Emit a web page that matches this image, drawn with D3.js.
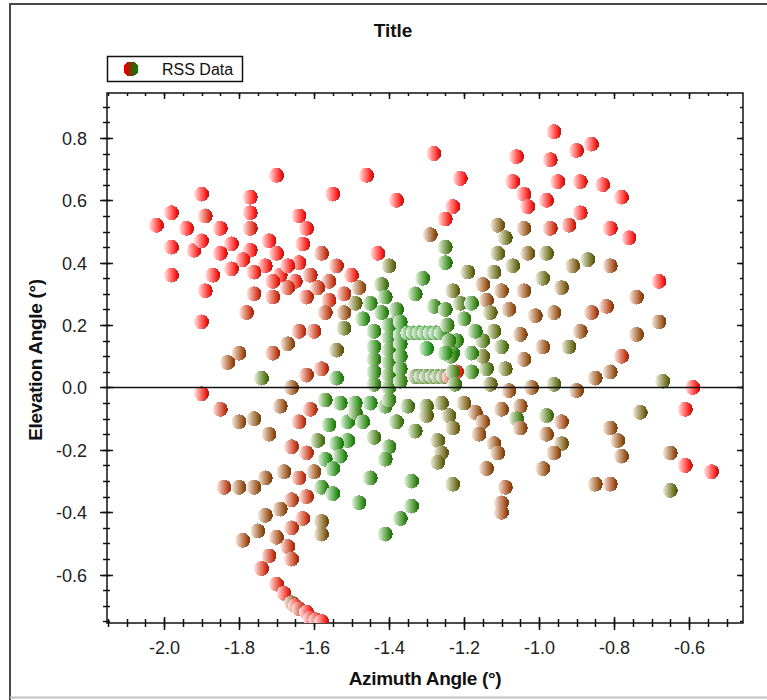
<!DOCTYPE html>
<html>
<head>
<meta charset="utf-8">
<script src="https://d3js.org/d3.v7.min.js"></script>
<style>
    body { margin: 0; background: #fff; }
    text { font-family: Arial, "Liberation Sans", sans-serif; fill: #111; }
    .tick text { font-size: 18px; fill: #222; }
    .axis-title { font-size: 19px; font-weight: bold; }
    .domain { display: none; }
    .dot { shape-rendering: crispEdges; }
</style>
</head>
<body>
<svg width="767" height="700"></svg>
<script>
// scan samples: azimuth (deg), elevation (deg), normalised RSS (0 = weak/red, 1 = strong/green)
var azimuth = [
    -1.90,-1.77,-1.55,-1.70,-1.98,-1.89,-1.77,-1.64,-2.02,-1.94,
    -1.85,-1.77,-1.62,-1.98,-1.92,-1.90,-1.82,-1.85,-1.77,-1.72,
    -1.70,-1.63,-1.58,-1.79,-1.73,-1.64,-1.54,-1.98,-1.87,-1.82,
    -1.76,-1.69,-1.67,-1.61,-1.71,-1.65,-1.56,-1.52,-1.89,-1.76,
    -1.71,-1.67,-1.62,-1.59,-1.56,-1.50,-1.78,-1.57,-1.52,-1.90,
    -1.64,-1.60,-1.52,-1.83,-1.80,-1.71,-1.67,-1.62,-1.58,-1.54,
    -1.74,-1.66,-1.54,-1.90,-1.85,-1.80,-1.76,-1.69,-1.72,-1.61,
    -1.64,-1.57,-1.53,-1.56,-1.51,
    -1.66,-1.62,-1.60,-1.64,-1.68,-1.73,-1.76,-1.80,-1.84,-1.62,
    -1.66,-1.69,-1.73,-1.63,-1.58,-1.58,-1.66,-1.70,-1.75,-1.79,
    -1.67,-1.66,-1.72,-1.74,-1.70,-1.68,-1.66,-1.65,-1.64,-1.62,
    -1.61,-1.595,-1.58,
    -1.49,-1.45,-1.41,-1.49,-1.47,-1.59,-1.51,-1.54,-1.44,-1.38,
    -1.33,-1.40,-1.57,-1.53,-1.41,-1.55,-1.45,-1.58,-1.55,-1.48,
    -1.34,-1.34,-1.37,-1.41,
    -1.30,-1.24,-1.27,-1.26,-1.27,-1.23,-1.23,-1.35,-1.30,-1.26,
    -1.20,-1.17,-1.15,-1.16,-1.14,-1.12,-1.11,-1.09,-1.10,-1.10,
    -1.10,-1.05,-1.06,-1.05,-0.98,-0.94,-0.98,-0.94,-0.96,-0.99,
    -1.02,-1.08,-0.96,-1.13,
    -0.96,-1.06,-0.97,-0.90,-0.86,-1.21,-1.07,-1.04,-0.95,-0.89,
    -0.83,-0.78,-1.03,-0.98,-1.23,-1.25,-0.89,-1.11,-1.04,-0.97,
    -0.92,-0.81,-0.76,-1.09,-1.11,-1.03,-0.98,-1.25,-1.25,-0.91,
    -0.87,-0.81,-1.19,-1.12,-1.07,-0.99,-0.68,-1.23,-1.15,-1.14,
    -1.10,-1.04,-0.94,-0.74,-1.21,-1.18,-1.13,-1.08,-1.01,-0.96,
    -0.86,-0.82,-1.12,-1.05,-0.89,-0.74,-0.68,-1.10,-1.04,-0.99,
    -0.92,-0.78,-1.09,-1.14,-0.85,-0.81,-0.67,-0.59,-0.90,-1.15,
    -1.15,-1.17,-1.20,-1.22,-1.23,-1.18,-1.18,-1.22,
    -1.43,-1.40,-1.31,-1.42,-1.48,-1.41,-1.33,-1.49,-1.45,-1.38,
    -1.28,-1.47,-1.42,-1.38,
    -1.44,-1.44,-1.44,-1.44,-1.44,
    -1.40,-1.40,-1.40,-1.40,-1.40,-1.40,-1.40,
    -1.37,-1.37,-1.37,-1.37,-1.37,-1.37,
    -1.35,-1.335,-1.32,-1.305,-1.29,-1.275,-1.26,
    -1.33,-1.315,-1.30,-1.285,-1.27,-1.255,-1.24,
    -1.25,-1.245,-1.24,-1.235,-1.23,-1.225,
    -1.30,-1.25,
    -0.81,-0.79,-0.78,-0.85,-0.81,-0.73,-0.65,-0.61,-0.61,-0.54,
    -0.65,
    -1.28,-1.46,-1.38,-1.29
];
var elevation = [
    0.62,0.61,0.62,0.68,0.56,0.55,0.56,0.55,0.52,0.51,
    0.51,0.51,0.51,0.45,0.44,0.47,0.46,0.43,0.44,0.47,
    0.43,0.46,0.43,0.41,0.39,0.40,0.39,0.36,0.36,0.38,
    0.37,0.36,0.39,0.36,0.34,0.34,0.34,0.30,0.31,0.30,
    0.29,0.32,0.29,0.32,0.28,0.36,0.24,0.24,0.24,0.21,
    0.18,0.18,0.19,0.08,0.11,0.11,0.14,0.04,0.06,0.12,
    0.03,0.00,0.03,-0.02,-0.07,-0.11,-0.10,-0.06,-0.15,-0.07,
    -0.11,-0.04,-0.05,-0.12,-0.11,
    -0.19,-0.21,-0.27,-0.29,-0.27,-0.29,-0.32,-0.32,-0.32,-0.35,
    -0.36,-0.39,-0.41,-0.42,-0.43,-0.47,-0.45,-0.48,-0.46,-0.49,
    -0.51,-0.55,-0.54,-0.58,-0.63,-0.66,-0.69,-0.70,-0.71,-0.72,
    -0.74,-0.745,-0.75,
    -0.05,-0.05,-0.06,-0.08,-0.11,-0.17,-0.17,-0.18,-0.16,-0.11,
    -0.14,-0.19,-0.23,-0.22,-0.23,-0.26,-0.29,-0.32,-0.34,-0.37,
    -0.30,-0.38,-0.42,-0.47,
    -0.09,-0.09,-0.17,-0.21,-0.24,-0.13,-0.31,-0.06,-0.06,-0.05,
    -0.05,-0.08,-0.11,-0.15,-0.26,-0.18,-0.21,-0.32,-0.37,-0.40,
    -0.07,-0.06,-0.10,-0.13,-0.09,-0.11,-0.15,-0.18,-0.21,-0.26,
    0.00,-0.01,0.01,0.01,
    0.82,0.74,0.73,0.76,0.78,0.67,0.66,0.62,0.66,0.66,
    0.65,0.61,0.58,0.60,0.58,0.54,0.56,0.52,0.51,0.51,
    0.52,0.51,0.48,0.48,0.43,0.43,0.43,0.45,0.40,0.39,
    0.41,0.39,0.37,0.37,0.39,0.35,0.34,0.31,0.33,0.28,
    0.31,0.31,0.32,0.29,0.27,0.27,0.24,0.25,0.23,0.24,
    0.24,0.26,0.18,0.17,0.18,0.17,0.21,0.13,0.09,0.13,
    0.13,0.10,0.06,0.06,0.03,0.05,0.02,0.00,-0.01,0.10,
    0.15,0.18,0.22,0.15,0.11,0.11,0.05,0.05,
    0.43,0.39,0.35,0.33,0.32,0.29,0.30,0.27,0.27,0.25,
    0.26,0.22,0.24,0.21,
    0.18,0.13,0.09,0.05,0.01,
    0.20,0.16,0.12,0.08,0.04,0.00,-0.04,
    0.21,0.17,0.14,0.10,0.06,0.02,
    0.175,0.175,0.175,0.175,0.175,0.175,0.175,
    0.035,0.035,0.035,0.035,0.035,0.035,0.035,
    0.25,0.20,0.15,0.10,0.05,0.01,
    0.125,0.11,
    -0.13,-0.17,-0.22,-0.31,-0.31,-0.08,-0.21,-0.07,-0.25,-0.27,
    -0.33,
    0.75,0.68,0.60,0.49
];
var rss = [
    0.03,0.03,0.03,0.03,0.03,0.15,0.03,0.03,0.03,0.03,
    0.03,0.15,0.03,0.03,0.03,0.03,0.03,0.03,0.05,0.03,
    0.05,0.05,0.25,0.05,0.05,0.08,0.20,0.03,0.05,0.05,
    0.08,0.08,0.05,0.20,0.10,0.12,0.25,0.25,0.05,0.20,
    0.20,0.20,0.22,0.25,0.20,0.08,0.25,0.30,0.45,0.05,
    0.25,0.25,0.70,0.40,0.40,0.30,0.45,0.30,0.25,0.60,
    0.75,0.45,0.90,0.10,0.25,0.45,0.50,0.45,0.45,0.25,
    0.25,0.85,0.92,0.92,0.92,
    0.25,0.25,0.45,0.25,0.45,0.45,0.45,0.45,0.30,0.25,
    0.30,0.45,0.45,0.25,0.55,0.55,0.25,0.40,0.45,0.40,
    0.25,0.25,0.25,0.20,0.15,0.10,0.45,0.10,0.20,0.05,
    0.05,0.05,0.05,
    0.92,0.92,0.85,0.85,0.90,0.75,0.92,0.92,0.80,0.80,
    0.75,0.88,0.92,0.92,0.88,0.92,0.88,0.90,0.92,0.90,
    0.88,0.88,0.88,0.88,
    0.65,0.65,0.65,0.62,0.65,0.60,0.65,0.78,0.70,0.65,
    0.55,0.45,0.45,0.45,0.45,0.45,0.45,0.40,0.40,0.40,
    0.45,0.45,0.80,0.45,0.75,0.40,0.45,0.55,0.45,0.45,
    0.45,0.45,0.70,0.65,
    0.03,0.03,0.05,0.05,0.05,0.03,0.03,0.05,0.05,0.05,
    0.05,0.03,0.05,0.05,0.03,0.05,0.05,0.55,0.45,0.20,
    0.15,0.05,0.03,0.65,0.65,0.55,0.65,0.78,0.88,0.55,
    0.65,0.40,0.65,0.65,0.65,0.65,0.03,0.65,0.45,0.45,
    0.45,0.45,0.55,0.40,0.75,0.88,0.65,0.45,0.45,0.45,
    0.35,0.35,0.70,0.45,0.45,0.45,0.45,0.75,0.45,0.45,
    0.65,0.25,0.65,0.75,0.45,0.45,0.65,0.03,0.45,0.65,
    0.75,0.88,0.88,0.88,0.90,0.88,0.88,0.15,
    0.03,0.65,0.88,0.78,0.45,0.88,0.88,0.65,0.90,0.88,
    0.88,0.92,0.90,0.90,
    0.90,0.90,0.88,0.88,0.85,
    0.90,0.90,0.88,0.88,0.85,0.85,0.85,
    0.92,0.92,0.90,0.90,0.88,0.85,
    0.95,0.95,0.95,0.95,0.95,0.95,0.92,
    0.80,0.80,0.80,0.80,0.80,0.75,0.20,
    0.85,0.85,0.85,0.85,0.80,0.80,
    0.97,0.92,
    0.45,0.45,0.45,0.45,0.40,0.60,0.45,0.05,0.05,0.03,
    0.65,
    0.03,0.03,0.03,0.45
];
var xTicks = [-2.0, -1.8, -1.6, -1.4, -1.2, -1.0, -0.8, -0.6];
var yTicks = [-0.6, -0.4, -0.2, 0.0, 0.2, 0.4, 0.6, 0.8];
var chartTitle = "Title";
var seriesName = "RSS Data";

var svg = d3.select("svg");
var plot = {left: 107, right: 743, top: 93, bottom: 623};

var x = d3.scaleLinear().domain([-2.152, -0.456]).range([plot.left, plot.right]);
var y = d3.scaleLinear().domain([-0.755, 0.944]).range([plot.bottom, plot.top]);
var color = d3.scaleLinear().domain([0, 1]).range(["#ff0000", "#008c00"]).interpolate(d3.interpolateRgb);
var fmt = function(d) { return d.toFixed(1); };

var defs = svg.append("defs");
var shine = defs.append("linearGradient").attr("id", "shine");
shine.append("stop").attr("offset", "0").attr("stop-color", "#fff").attr("stop-opacity", 0.92);
shine.append("stop").attr("offset", "0.35").attr("stop-color", "#fff").attr("stop-opacity", 0.55);
shine.append("stop").attr("offset", "0.9").attr("stop-color", "#fff").attr("stop-opacity", 0);
var legGrad = defs.append("linearGradient").attr("id", "legGrad");
legGrad.append("stop").attr("offset", "0.2").attr("stop-color", "#e00000");
legGrad.append("stop").attr("offset", "0.9").attr("stop-color", "#008000");

// outer frame
svg.append("path").attr("d", "M10,700V4H767").attr("fill", "none").attr("stroke", "#4a4a4a").attr("stroke-width", 2);
svg.append("line").attr("x1", 10).attr("x2", 767).attr("y1", 697.5).attr("y2", 697.5).attr("stroke", "#c0c0c0").attr("stroke-width", 2);

// title
svg.append("text").attr("x", 393).attr("y", 37).attr("text-anchor", "middle")
    .style("font-size", "19px").style("font-weight", "bold").text(chartTitle);

// legend
var leg = svg.append("g");
leg.append("rect").attr("x", 107.5).attr("y", 56.5).attr("width", 135).attr("height", 25)
    .attr("fill", "#fff").attr("stroke", "#111").attr("stroke-width", 1.5);
leg.append("circle").attr("cx", 131).attr("cy", 69).attr("r", 7.5).attr("fill", "url(#legGrad)").attr("class", "dot");
leg.append("text").attr("x", 162).attr("y", 75).style("font-size", "16px").text(seriesName);

// minor ticks every 0.05
var xMinor = d3.range(-2.15, -0.45, 0.05).map(function(v) { return +v.toFixed(2); })
    .filter(function(v) { return v > -2.152 && v < -0.456; });
var yMinor = d3.range(-0.75, 0.95, 0.05).map(function(v) { return +v.toFixed(2); })
    .filter(function(v) { return v > -0.755 && v < 0.944; });

function tickLines(g, vals, scale, orient, inner, outer) {
    g.selectAll("line").data(vals).enter().append("line")
        .attr("stroke", "#111").attr("stroke-width", 1.5)
        .each(function(d) {
            var s = d3.select(this), p = Math.round(scale(d)) + 0.5;
            if (orient === "left") s.attr("x1", plot.left - outer).attr("x2", plot.left + inner).attr("y1", p).attr("y2", p);
            if (orient === "right") s.attr("x1", plot.right - inner).attr("x2", plot.right + outer).attr("y1", p).attr("y2", p);
            if (orient === "bottom") s.attr("y1", plot.bottom + outer).attr("y2", plot.bottom - inner).attr("x1", p).attr("x2", p);
            if (orient === "top") s.attr("y1", plot.top - outer).attr("y2", plot.top + inner).attr("x1", p).attr("x2", p);
        });
}

var axes = svg.append("g");
tickLines(axes.append("g"), yMinor, y, "left", 3, 4);
tickLines(axes.append("g"), yTicks, y, "left", 6, 7);
tickLines(axes.append("g"), xMinor, x, "bottom", 4, 4);
tickLines(axes.append("g"), xTicks, x, "bottom", 6, 7);
tickLines(axes.append("g"), yMinor, y, "right", 3, 0);
tickLines(axes.append("g"), yTicks, y, "right", 6, 0);
tickLines(axes.append("g"), xMinor, x, "top", 3, 0);
tickLines(axes.append("g"), xTicks, x, "top", 6, 0);

// tick labels via d3 axes (tick lines hidden)
svg.append("g").attr("transform", "translate(0," + plot.bottom + ")")
    .call(d3.axisBottom(x).tickValues(xTicks).tickSize(0).tickPadding(18).tickFormat(fmt))
    .call(function(g) { g.selectAll("text").attr("font-family", null); });
svg.append("g").attr("transform", "translate(" + plot.left + ",0)")
    .call(d3.axisLeft(y).tickValues(yTicks).tickSize(0).tickPadding(20).tickFormat(fmt))
    .call(function(g) { g.selectAll("text").attr("font-family", null).attr("dy", "0.36em"); });
svg.selectAll(".tick text").attr("font-size", null);

// plot frame
svg.append("rect").attr("x", plot.left).attr("y", plot.top)
    .attr("width", plot.right - plot.left).attr("height", plot.bottom - plot.top)
    .attr("fill", "none").attr("stroke", "#111").attr("stroke-width", 1.5);

// axis titles
svg.append("text").attr("class", "axis-title").attr("x", (plot.left + plot.right) / 2).attr("y", 685)
    .attr("text-anchor", "middle").style("letter-spacing", "-0.3px").text("Azimuth Angle (\u00b0)");
svg.append("text").attr("class", "axis-title").attr("transform", "translate(42,360) rotate(-90)")
    .attr("text-anchor", "middle").style("letter-spacing", "-0.3px").text("Elevation Angle (\u00b0)");

// points
var pts = azimuth.map(function(a, i) { return {az: a, el: elevation[i], v: rss[i]}; });
var clip = defs.append("clipPath").attr("id", "plotClip");
clip.append("rect").attr("x", plot.left).attr("y", plot.top)
    .attr("width", plot.right - plot.left).attr("height", plot.bottom - plot.top);

var dots = svg.append("g").attr("clip-path", "url(#plotClip)").selectAll("g").data(pts).enter().append("g")
    .attr("transform", function(d) { return "translate(" + x(d.az) + "," + y(d.el) + ")"; });
dots.append("circle").attr("class", "dot").attr("r", 7.5).attr("fill", function(d) { return color(d.v); });
dots.append("circle").attr("class", "dot").attr("r", 7.5).attr("fill", "url(#shine)");

// zero line
svg.append("line").attr("x1", plot.left).attr("x2", plot.right)
    .attr("y1", y(0)).attr("y2", y(0)).attr("stroke", "#111").attr("stroke-width", 1.5);
</script>
</body>
</html>
